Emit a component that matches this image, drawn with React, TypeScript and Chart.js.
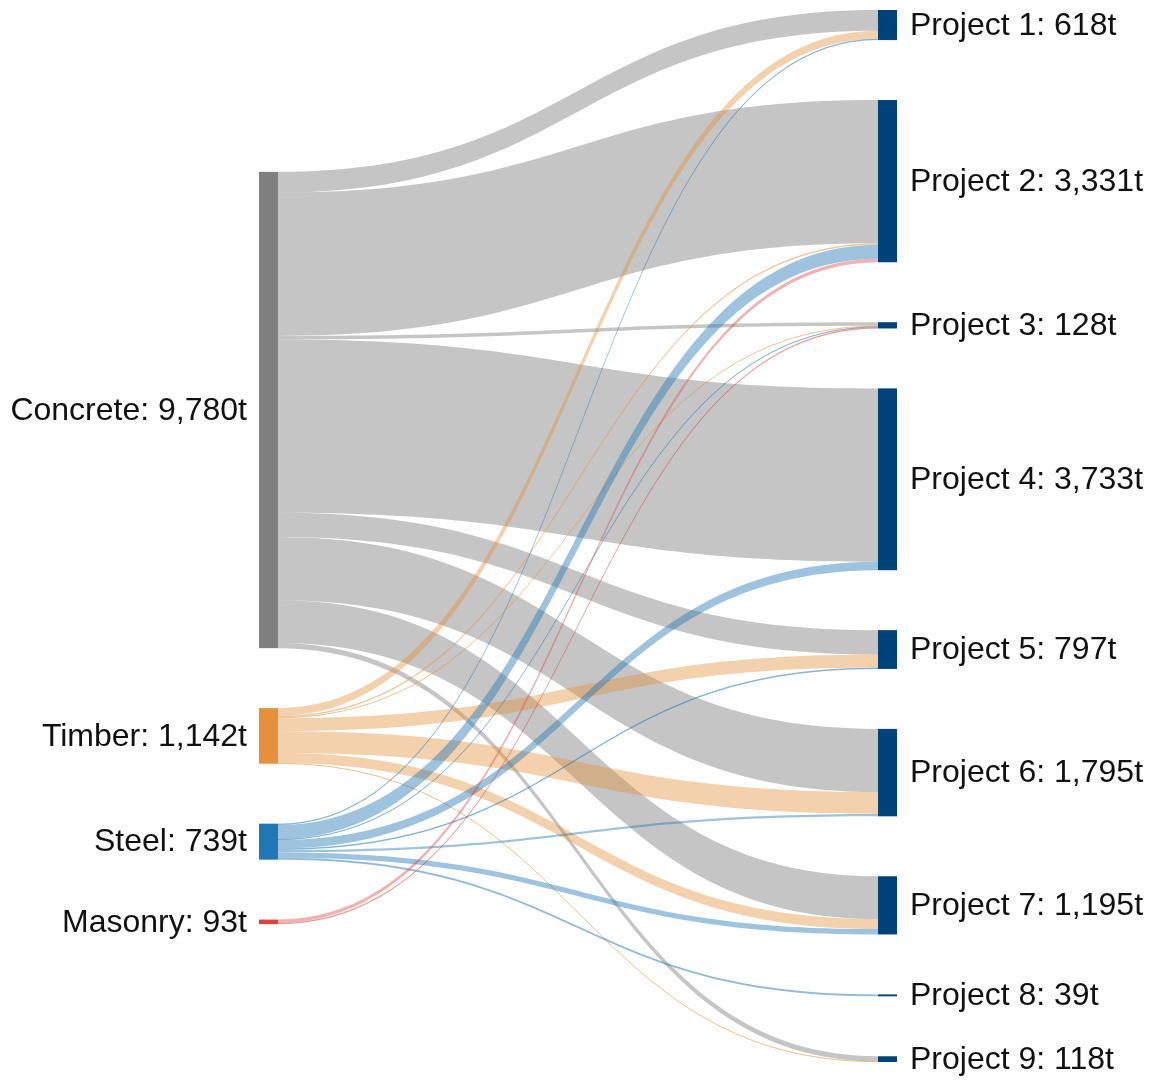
import React, { useEffect, useRef } from 'react';
import { Chart, registerables } from 'chart.js';

Chart.register(...registerables);

// ---- Data ----
const materials = ['Concrete', 'Timber', 'Steel', 'Masonry'];
const projects = ['Project 1', 'Project 2', 'Project 3', 'Project 4', 'Project 5', 'Project 6', 'Project 7', 'Project 8', 'Project 9'];

// tonnes sent from each material to Project 1..9
const concreteFlows = [427, 2941, 72, 3558, 502, 1295, 880, 0, 105];
const timberFlows = [161, 30, 18, 0, 265, 450, 205, 0, 13];
const steelFlows = [30, 290, 15, 175, 30, 50, 110, 39, 0];
const masonryFlows = [0, 70, 23, 0, 0, 0, 0, 0, 0];

const flowsByMaterial = [concreteFlows, timberFlows, steelFlows, masonryFlows];

// ---- Styles ----
const materialColors = ['#7f7f7f', '#e5913b', '#1f77b4', '#db4444'];
const linkColors = [
  'rgba(128,128,128,0.46)',
  'rgba(229,145,59,0.42)',
  'rgba(31,119,180,0.44)',
  'rgba(219,68,68,0.42)',
];
const projectColor = '#00427a';
const GAP_T = 1231; // vertical padding between nodes, in tonnes-equivalent
const LEFT_SHIFT = 0.54; // fraction of free space above the left column
const NODE_W = 19;
const FONT = '32px "Liberation Sans", Arial, sans-serif';

const fmt = (v: number) => v.toLocaleString('en-US') + 't';

export default function App() {
  const ref = useRef<HTMLCanvasElement | null>(null);

  useEffect(() => {
    if (!ref.current) return;
    const matTotals = flowsByMaterial.map((f) => f.reduce((a, b) => a + b, 0));
    const projTotals = projects.map((_, j) => flowsByMaterial.reduce((a, f) => a + f[j], 0));
    const total = matTotals.reduce((a, b) => a + b, 0);
    const yMax = total + (projects.length - 1) * GAP_T;
    const leftSpan = total + (materials.length - 1) * GAP_T;
    const leftOffset = (yMax - leftSpan) * LEFT_SHIFT;

    const matTop: number[] = [];
    let acc = leftOffset;
    matTotals.forEach((t) => {
      matTop.push(acc);
      acc += t + GAP_T;
    });
    const projTop: number[] = [];
    acc = 0;
    projTotals.forEach((t) => {
      projTop.push(acc);
      acc += t + GAP_T;
    });

    const points = [
      ...matTotals.map((t, i) => ({ x: 0, y: matTop[i] + t / 2 })),
      ...projTotals.map((t, j) => ({ x: 1, y: projTop[j] + t / 2 })),
    ];

    const sankeyPlugin = {
      id: 'sankeyDraw',
      afterDatasetsDraw(chart: any) {
        const ctx = chart.ctx as CanvasRenderingContext2D;
        const xs = chart.scales.x;
        const ys = chart.scales.y;
        const xL = xs.getPixelForValue(0);
        const xR = xs.getPixelForValue(1);
        const x0 = xL + NODE_W;
        const x1 = xR - NODE_W;
        const xm = (x0 + x1) / 2;
        const Y = (v: number) => ys.getPixelForValue(v);

        ctx.save();
        // links
        const srcCursor = matTop.slice();
        const tgtCursor = projTop.slice();
        flowsByMaterial.forEach((flows, i) => {
          flows.forEach((v, j) => {
            if (v <= 0) return;
            const s0 = srcCursor[i];
            const s1 = s0 + v;
            const t0 = tgtCursor[j];
            const t1 = t0 + v;
            srcCursor[i] = s1;
            tgtCursor[j] = t1;
            ctx.beginPath();
            ctx.moveTo(x0, Y(s0));
            ctx.bezierCurveTo(xm, Y(s0), xm, Y(t0), x1, Y(t0));
            ctx.lineTo(x1, Y(t1));
            ctx.bezierCurveTo(xm, Y(t1), xm, Y(s1), x0, Y(s1));
            ctx.closePath();
            ctx.fillStyle = linkColors[i];
            ctx.fill();
            const px = Math.abs(Y(s1) - Y(s0));
            if (px < 2) {
              // keep very thin links visible as a hairline
              const sm = Y((s0 + s1) / 2);
              const tm = Y((t0 + t1) / 2);
              ctx.beginPath();
              ctx.moveTo(x0, sm);
              ctx.bezierCurveTo(xm, sm, xm, tm, x1, tm);
              ctx.lineWidth = 1.1 - px * 0.4;
              ctx.strokeStyle = linkColors[i];
              ctx.stroke();
            }
          });
        });

        // nodes
        matTotals.forEach((t, i) => {
          ctx.fillStyle = materialColors[i];
          ctx.fillRect(xL, Y(matTop[i]), NODE_W, Y(matTop[i] + t) - Y(matTop[i]));
        });
        projTotals.forEach((t, j) => {
          ctx.fillStyle = projectColor;
          ctx.fillRect(x1, Y(projTop[j]), NODE_W, Y(projTop[j] + t) - Y(projTop[j]));
        });

        // labels
        ctx.font = FONT;
        ctx.fillStyle = '#111111';
        ctx.textBaseline = 'middle';
        ctx.textAlign = 'right';
        materials.forEach((m, i) => {
          ctx.fillText(`${m}: ${fmt(matTotals[i])}`, xL - 12, Y(matTop[i] + matTotals[i] / 2) + 1);
        });
        ctx.textAlign = 'left';
        projects.forEach((p, j) => {
          ctx.fillText(`${p}: ${fmt(projTotals[j])}`, xR + 13, Y(projTop[j] + projTotals[j] / 2) + 1);
        });
        ctx.restore();
      },
    };

    const chart = new Chart(ref.current, {
      type: 'scatter',
      data: {
        datasets: [
          {
            data: points,
            pointRadius: 0,
            pointHoverRadius: 0,
            showLine: false,
          },
        ],
      },
      options: {
        responsive: false,
        animation: false,
        events: [],
        layout: { padding: { left: 259, right: 259, top: 10, bottom: 18 } },
        plugins: { legend: { display: false }, tooltip: { enabled: false } },
        scales: {
          x: { type: 'linear', min: 0, max: 1, display: false },
          y: { type: 'linear', min: 0, max: yMax, reverse: true, display: false },
        },
      },
      plugins: [sankeyPlugin],
    });
    return () => chart.destroy();
  }, []);

  return (
    <div style={{ position: 'fixed', left: 0, top: 0, width: 1156, height: 1080, background: '#fff' }}>
      <canvas ref={ref} width={1156} height={1080} style={{ display: 'block' }} />
    </div>
  );
}
